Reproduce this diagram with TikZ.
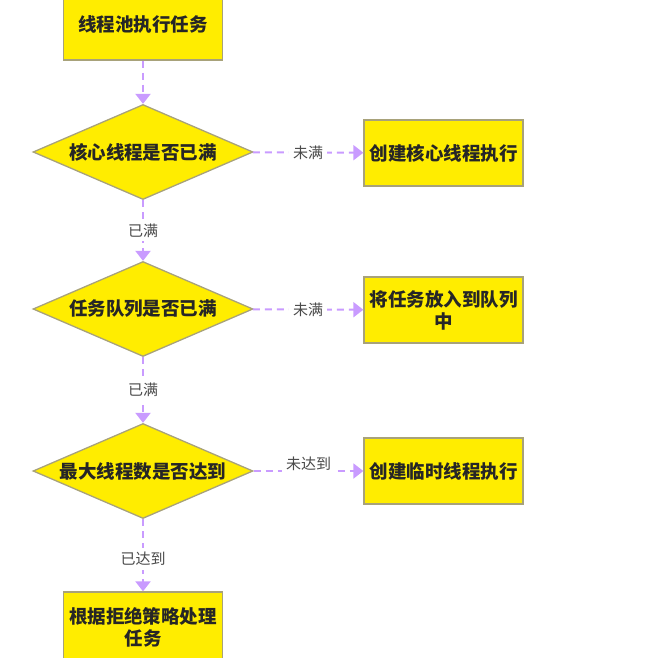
\documentclass[tikz,border=0pt]{standalone}
\usepackage{fontspec}
\setmainfont{Noto Sans CJK SC}
\usetikzlibrary{shapes.geometric,arrows.meta,positioning}

\definecolor{boxyellow}{HTML}{FFED00}
\definecolor{boxedge}{HTML}{A8A27A}
\definecolor{flowline}{HTML}{C99BFF}
\definecolor{labelgray}{HTML}{4A4A4A}

\begin{document}
\begin{tikzpicture}[x=1pt, y=-1pt,
  taskbox/.style={draw=boxedge, line width=1.3pt, fill=boxyellow, minimum width=159pt,
    minimum height=66pt, align=center, font=\fontsize{18.5}{22}\selectfont\bfseries, text=black!85},
  check/.style={diamond, draw=boxedge, line width=1.3pt, fill=boxyellow, aspect=2.3,
    minimum width=220pt, minimum height=95pt, inner sep=0pt,
    font=\fontsize{18.5}{22}\selectfont\bfseries, text=black!85},
  flow/.style={draw=flowline, line width=2pt, dash pattern=on 7pt off 5pt,
    -{Triangle[width=15pt,length=10pt]}},
  answer/.style={fill=white, inner sep=4pt, font=\fontsize{15}{18}\selectfont, text=labelgray}]

\useasboundingbox (0,0) rectangle (665,657);
\clip (0,0) rectangle (665,657);

% main column
\node[taskbox, minimum height=70pt] (start) at (143,25) {线程池执行任务};
\node[check] (core) at (143,152) {核心线程是否已满};
\node[check] (queue) at (143,309) {任务队列是否已满};
\node[check] (max) at (143,471) {最大线程数是否达到};
\node[taskbox, minimum height=70pt] (reject) at (143,627) {根据拒绝策略处理\\任务};

% right column
\node[taskbox] (newcore) at (443.5,153) {创建核心线程执行};
\node[taskbox] (enqueue) at (443.5,310) {将任务放入到队列\\中};
\node[taskbox] (newtemp) at (443.5,471) {创建临时线程执行};

% connectors
\draw[flow] (start) -- (core);
\draw[flow] (core) -- node[answer] {已满} (queue);
\draw[flow] (queue) -- node[answer] {已满} (max);
\draw[flow] (max) -- node[answer, pos=0.55] {已达到} (reject);

\draw[flow] (core) -- node[answer] {未满} (newcore);
\draw[flow] (queue) -- node[answer] {未满} (enqueue);
\draw[flow] (max) -- node[answer, yshift=7pt] {未达到} (newtemp);

\end{tikzpicture}
\end{document}
